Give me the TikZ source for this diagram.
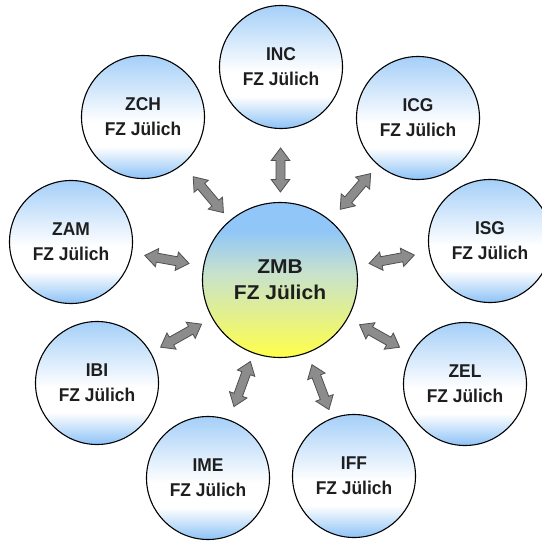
\documentclass[tikz,border=0pt]{standalone}
\usepackage{fontspec}
\usetikzlibrary{calc}
\newfontfamily\labfont[FakeStretch=0.94,BoldFont={Liberation Sans Bold}]{Liberation Sans}
\newfontfamily\cenfont[FakeStretch=1.05,BoldFont={Liberation Sans Bold}]{Liberation Sans}
\definecolor{ot}{HTML}{A5CFF8}
\definecolor{ob}{HTML}{8DC2F6}
\definecolor{cb}{HTML}{90C6F8}
\definecolor{cmid}{HTML}{C8E2CC}
\definecolor{cy}{HTML}{FFFF4A}
\definecolor{arrfill}{HTML}{8C8C8C}
\definecolor{arredge}{HTML}{505050}
\definecolor{txt}{HTML}{1E1E1E}
\pgfdeclareverticalshading{outershade}{100bp}{color(0bp)=(ob); color(25bp)=(ob); color(38bp)=(white); color(48bp)=(white); color(75bp)=(ot); color(100bp)=(ot)}
\pgfdeclareverticalshading{centershade}{100bp}{color(0bp)=(cy); color(25bp)=(cy); color(52bp)=(cmid); color(66bp)=(cb); color(75bp)=(cb); color(100bp)=(cb)}
\tikzset{
  outer/.style={circle, draw=black, line width=1.1pt, minimum size=123pt, inner sep=0pt,
    shading=outershade, align=center, text=txt,
    font=\labfont\bfseries\fontsize{18.5}{25}\selectfont,
    execute at begin node={\rule{0pt}{16.5pt}}},
  centre/.style={circle, draw=black, line width=1.1pt, minimum size=155pt, inner sep=0pt,
    shading=centershade, align=center, text=txt,
    font=\cenfont\bfseries\fontsize{20}{26}\selectfont},
  arrowlook/.style={fill=arrfill, draw=arredge, line width=0.8pt, line join=miter},
  bidir/.style 2 args={
    to path={let \p1=(\tikztostart), \p2=(\tikztotarget),
      \n1={atan2(\y2-\y1,\x2-\x1)}, \n2={#1+12.5}, \n3={#2-12.5} in
      ($(\p1)+(\n1:#1 pt)$)
      -- ($(\p1)+(\n1:\n2 pt)+(\n1+90:9.3pt)$)
      -- ($(\p1)+(\n1:\n2 pt)+(\n1+90:4.5pt)$)
      -- ($(\p1)+(\n1:\n3 pt)+(\n1+90:4.5pt)$)
      -- ($(\p1)+(\n1:\n3 pt)+(\n1+90:9.3pt)$)
      -- ($(\p1)+(\n1:#2 pt)$)
      -- ($(\p1)+(\n1:\n3 pt)+(\n1-90:9.3pt)$)
      -- ($(\p1)+(\n1:\n3 pt)+(\n1-90:4.5pt)$)
      -- ($(\p1)+(\n1:\n2 pt)+(\n1-90:4.5pt)$)
      -- ($(\p1)+(\n1:\n2 pt)+(\n1-90:9.3pt)$)
      -- cycle}}
}
\begin{document}
\begin{tikzpicture}[x=1pt,y=-1pt]
\useasboundingbox (0,0) rectangle (541,545);
\node[centre] (zmb) at (280,280) {ZMB\\FZ Jülich};
\node[outer] (inc) at (281,67) {INC\\FZ Jülich};
\node[outer] (zch) at (143,117) {ZCH\\FZ Jülich};
\node[outer] (icg) at (418,118) {ICG\\FZ Jülich};
\node[outer] (zam) at (71,242) {ZAM\\FZ Jülich};
\node[outer] (isg) at (490,241) {ISG\\FZ Jülich};
\node[outer] (ibi) at (97,383) {IBI\\FZ Jülich};
\node[outer] (zel) at (465,384) {ZEL\\FZ Jülich};
\node[outer] (ime) at (208,478) {IME\\FZ Jülich};
\node[outer] (iff) at (354,476) {IFF\\FZ Jülich};
\draw[arrowlook] (inc) to[bidir={81}{125}] (zmb);
\draw[arrowlook] (zch) to[bidir={78}{125}] (zmb);
\draw[arrowlook] (icg) to[bidir={73}{120}] (zmb);
\draw[arrowlook] (zam) to[bidir={75}{120}] (zmb);
\draw[arrowlook] (isg) to[bidir={77}{123}] (zmb);
\draw[arrowlook] (ibi) to[bidir={73}{120}] (zmb);
\draw[arrowlook] (zel) to[bidir={75}{121}] (zmb);
\draw[arrowlook] (ime) to[bidir={76}{124}] (zmb);
\draw[arrowlook] (iff) to[bidir={71}{119}] (zmb);
\end{tikzpicture}
\end{document}
